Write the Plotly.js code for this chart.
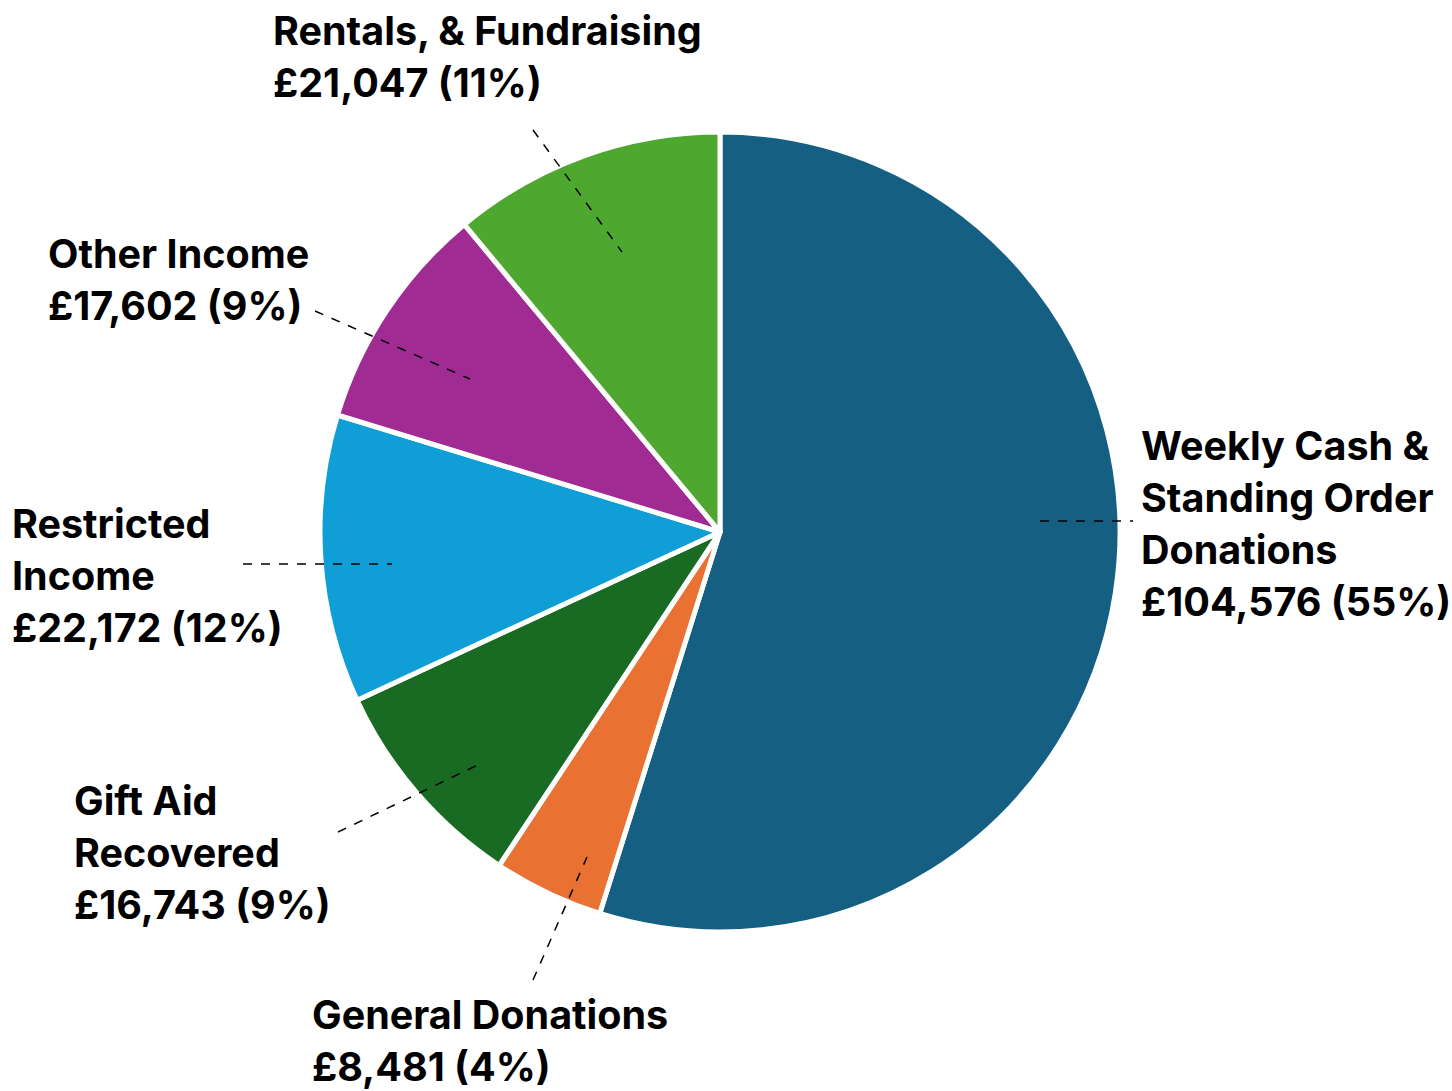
<!DOCTYPE html>
<html>
<head>
<meta charset="utf-8">
<script src="https://cdn.plot.ly/plotly-3.0.1.min.js"></script>
<style>html,body{margin:0;padding:0;background:#fff;}#chart{width:1452px;height:1091px;}</style>
</head>
<body>
<div id="chart"></div>
<script>
// ---- data ----
const categories = [
  "Weekly Cash & Standing Order Donations",
  "General Donations",
  "Gift Aid Recovered",
  "Restricted Income",
  "Other Income",
  "Rentals, & Fundraising"
];
const values = [104576, 8481, 16743, 22172, 17602, 21047];
// how each category name wraps in its label
const labelLines = [
  ["Weekly Cash &", "Standing Order", "Donations"],
  ["General Donations"],
  ["Gift Aid", "Recovered"],
  ["Restricted", "Income"],
  ["Other Income"],
  ["Rentals, & Fundraising"]
];
const sliceColors = ["#156082", "#E97132", "#196B24", "#0F9ED5", "#A02B93", "#4EA72E"];

// ---- layout helpers (pixel placement) ----
const W = 1452, H = 1091;
const px = x => x / W;
const py = y => 1 - y / H;

// label block: left x, first-baseline y (pixels)
const labelPos = [
  [1139, 460],
  [310, 1029],
  [72, 815],
  [10, 538],
  [46, 268],
  [271, 45]
];
// leader lines [x0,y0,x1,y1] in pixels
const leaders = [
  [1040, 521, 1133, 521],
  [533, 980, 587, 857],
  [338, 832, 484, 762],
  [243, 564, 392, 564],
  [315, 311, 470, 379],
  [533, 130, 622, 252]
];

const total = values.reduce((a, b) => a + b, 0);
const fmt = v => "£" + v.toLocaleString("en-GB");

const FS = 39.5;
const LINE = 52;
const annotations = [];
categories.forEach((c, i) => {
  const lines = labelLines[i].concat([fmt(values[i]) + " (" + Math.round(values[i] / total * 100) + "%)"]);
  lines.forEach((t, k) => {
    annotations.push({
      text: t,
      xref: "paper", yref: "paper",
      x: px(labelPos[i][0]),
      y: py(labelPos[i][1] + k * LINE - 14),
      xanchor: "left", yanchor: "middle",
      showarrow: false,
      align: "left",
      font: {family: "Inter, 'Open Sans', sans-serif", size: FS, color: "#000", weight: 700}
    });
  });
});

const shapes = leaders.map(l => ({
  type: "line", xref: "paper", yref: "paper",
  x0: px(l[0]), y0: py(l[1]), x1: px(l[2]), y1: py(l[3]),
  line: {color: "#000", width: 1.5, dash: "dash"}
}));

const cx = 720, cy = 532, R = 400;

const data = [{
  type: "pie",
  labels: categories,
  values: values,
  sort: false,
  direction: "clockwise",
  rotation: 0,
  marker: {colors: sliceColors, line: {color: "#fff", width: 5}},
  textinfo: "none",
  hoverinfo: "label+value+percent",
  showlegend: false,
  domain: {x: [px(cx - R), px(cx + R)], y: [py(cy + R), py(cy - R)]}
}];

const layout = {
  width: W, height: H,
  margin: {l: 0, r: 0, t: 0, b: 0},
  paper_bgcolor: "#fff",
  showlegend: false,
  annotations: annotations,
  shapes: shapes
};

Plotly.newPlot("chart", data, layout, {displayModeBar: false, staticPlot: true});
</script>
</body>
</html>
